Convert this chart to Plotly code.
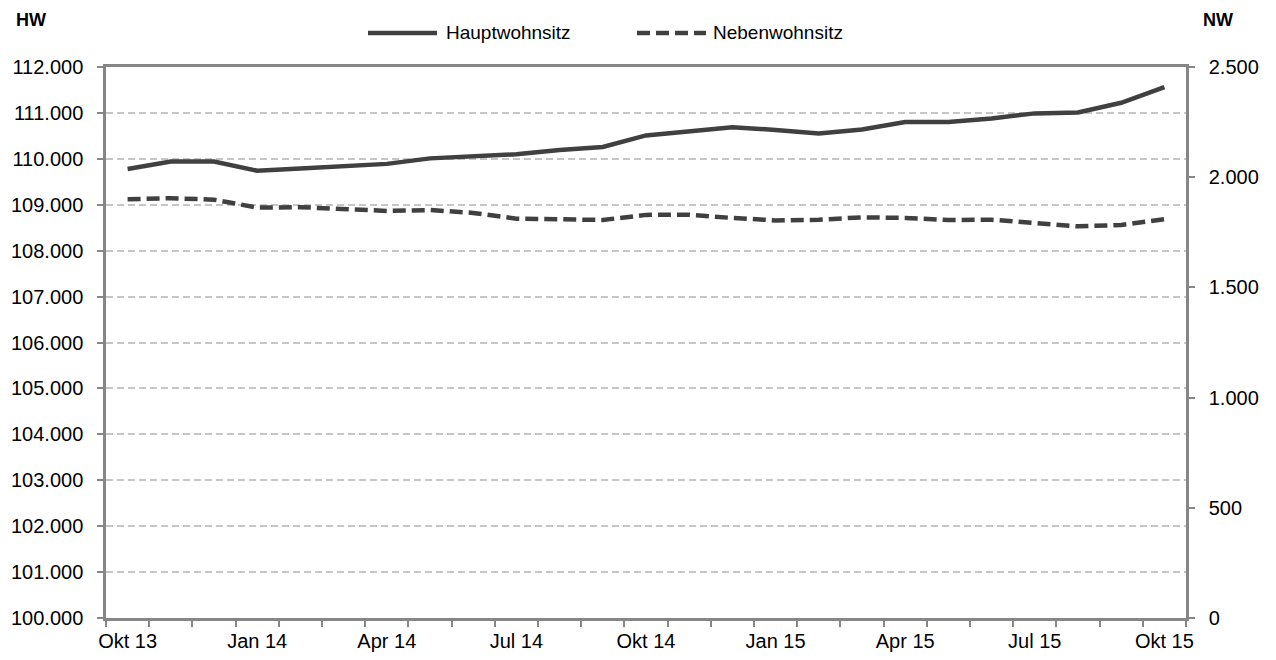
import plotly.graph_objects as go

months = ["Okt 13", "Nov 13", "Dez 13", "Jan 14", "Feb 14", "Mär 14", "Apr 14", "Mai 14",
          "Jun 14", "Jul 14", "Aug 14", "Sep 14", "Okt 14", "Nov 14", "Dez 14", "Jan 15",
          "Feb 15", "Mär 15", "Apr 15", "Mai 15", "Jun 15", "Jul 15", "Aug 15", "Sep 15", "Okt 15"]
tick_labels = [m if i % 3 == 0 else "" for i, m in enumerate(months)]

hauptwohnsitz = [109780, 109940, 109940, 109740, 109790, 109830, 109890, 110010, 110050,
                 110100, 110190, 110260, 110510, 110610, 110690, 110630, 110550, 110640,
                 110800, 110800, 110880, 110990, 111010, 111220, 111560]
nebenwohnsitz = [1900, 1905, 1898, 1862, 1864, 1855, 1847, 1851, 1838, 1812, 1808, 1806,
                 1829, 1830, 1815, 1804, 1807, 1818, 1815, 1806, 1807, 1794, 1777, 1783, 1809]

FONT = "Arial, Liberation Sans, sans-serif"
LINE = "#404040"
AX = "#868686"
DASH = "13px,6px"

fig = go.Figure()
fig.add_trace(go.Scatter(x=months, y=hauptwohnsitz, name="Hauptwohnsitz", mode="lines",
                         line=dict(color=LINE, width=4.5)))
fig.add_trace(go.Scatter(x=months, y=nebenwohnsitz, name="Nebenwohnsitz", mode="lines",
                         yaxis="y2", line=dict(color=LINE, width=4.5, dash=DASH)))

common_tick = dict(ticklen=6, tickwidth=2, tickcolor=AX, automargin=False)

# page body adds an 8px offset; margins compensate so the plot sits at 106..1186 x 67..618
fig.update_layout(
    width=1276, height=660,
    margin=dict(l=98, r=98, t=59, b=50),
    paper_bgcolor="white", plot_bgcolor="white",
    separators=",.",
    font=dict(family=FONT, size=20, color="black"),
    showlegend=False,
    xaxis=dict(type="category", categoryorder="array", categoryarray=months,
               tickmode="array", tickvals=months, ticktext=tick_labels, tickangle=0,
               tickson="boundaries", ticks="outside", ticklabelstandoff=3,
               showline=True, linecolor=AX, linewidth=2.5, mirror=True,
               showgrid=False, range=[-0.5, 24.5], **common_tick),
    xaxis2=dict(type="category", categoryorder="array", categoryarray=months,
                tickmode="array", tickvals=months, ticktext=["" for _ in months],
                tickson="boundaries", ticks="inside", overlaying="x", anchor="y",
                showline=False, showgrid=False, range=[-0.5, 24.5], **common_tick),
    yaxis=dict(range=[100000, 112000], dtick=1000, tickformat=",.0f",
               showgrid=True, gridcolor="#c6c6c6", gridwidth=2, griddash="7px,4px",
               showline=True, linecolor=AX, linewidth=2.5, ticklabelstandoff=10,
               ticks="outside", zeroline=False, **common_tick),
    yaxis3=dict(range=[100000, 112000], dtick=1000, showticklabels=False, overlaying="y",
                side="left", anchor="x", ticks="inside", showgrid=False, showline=False,
                zeroline=False, **common_tick),
    yaxis2=dict(range=[0, 2500], dtick=500, tickformat=",.0f", overlaying="y", side="right",
                showgrid=False, showline=True, linecolor=AX, linewidth=2.5,
                ticklabelstandoff=10, ticks="outside", zeroline=False, **common_tick),
    yaxis4=dict(range=[0, 2500], dtick=500, showticklabels=False, overlaying="y",
                side="right", anchor="x", ticks="inside", showgrid=False, showline=False,
                zeroline=False, **common_tick),
)

# helpers: screen pixel -> paper fraction (plot area on screen: x 106..1186, y 67..618)
PW = 1080
PH = 551
def px(xs):
    return (xs - 106) / PW
def py(ys):
    return (618 - ys) / PH

ly = py(33)
fig.add_shape(type="line", xref="paper", yref="paper", x0=px(368), x1=px(437), y0=ly, y1=ly,
              line=dict(color=LINE, width=4.5))
fig.add_shape(type="line", xref="paper", yref="paper", x0=px(637), x1=px(706), y0=ly, y1=ly,
              line=dict(color=LINE, width=4.5, dash=DASH))

fig.update_layout(annotations=[
    dict(text="Hauptwohnsitz", xref="paper", yref="paper", x=px(444), y=ly,
         xanchor="left", yanchor="middle", showarrow=False, font=dict(size=19)),
    dict(text="Nebenwohnsitz", xref="paper", yref="paper", x=px(711), y=ly,
         xanchor="left", yanchor="middle", showarrow=False, font=dict(size=19)),
    dict(text="<b>HW</b>", xref="paper", yref="paper", x=px(14), y=py(20),
         xanchor="left", yanchor="middle", showarrow=False, font=dict(size=18)),
    dict(text="<b>NW</b>", xref="paper", yref="paper", x=px(1201), y=py(20),
         xanchor="left", yanchor="middle", showarrow=False, font=dict(size=18)),
])

fig.write_html("out.html")
